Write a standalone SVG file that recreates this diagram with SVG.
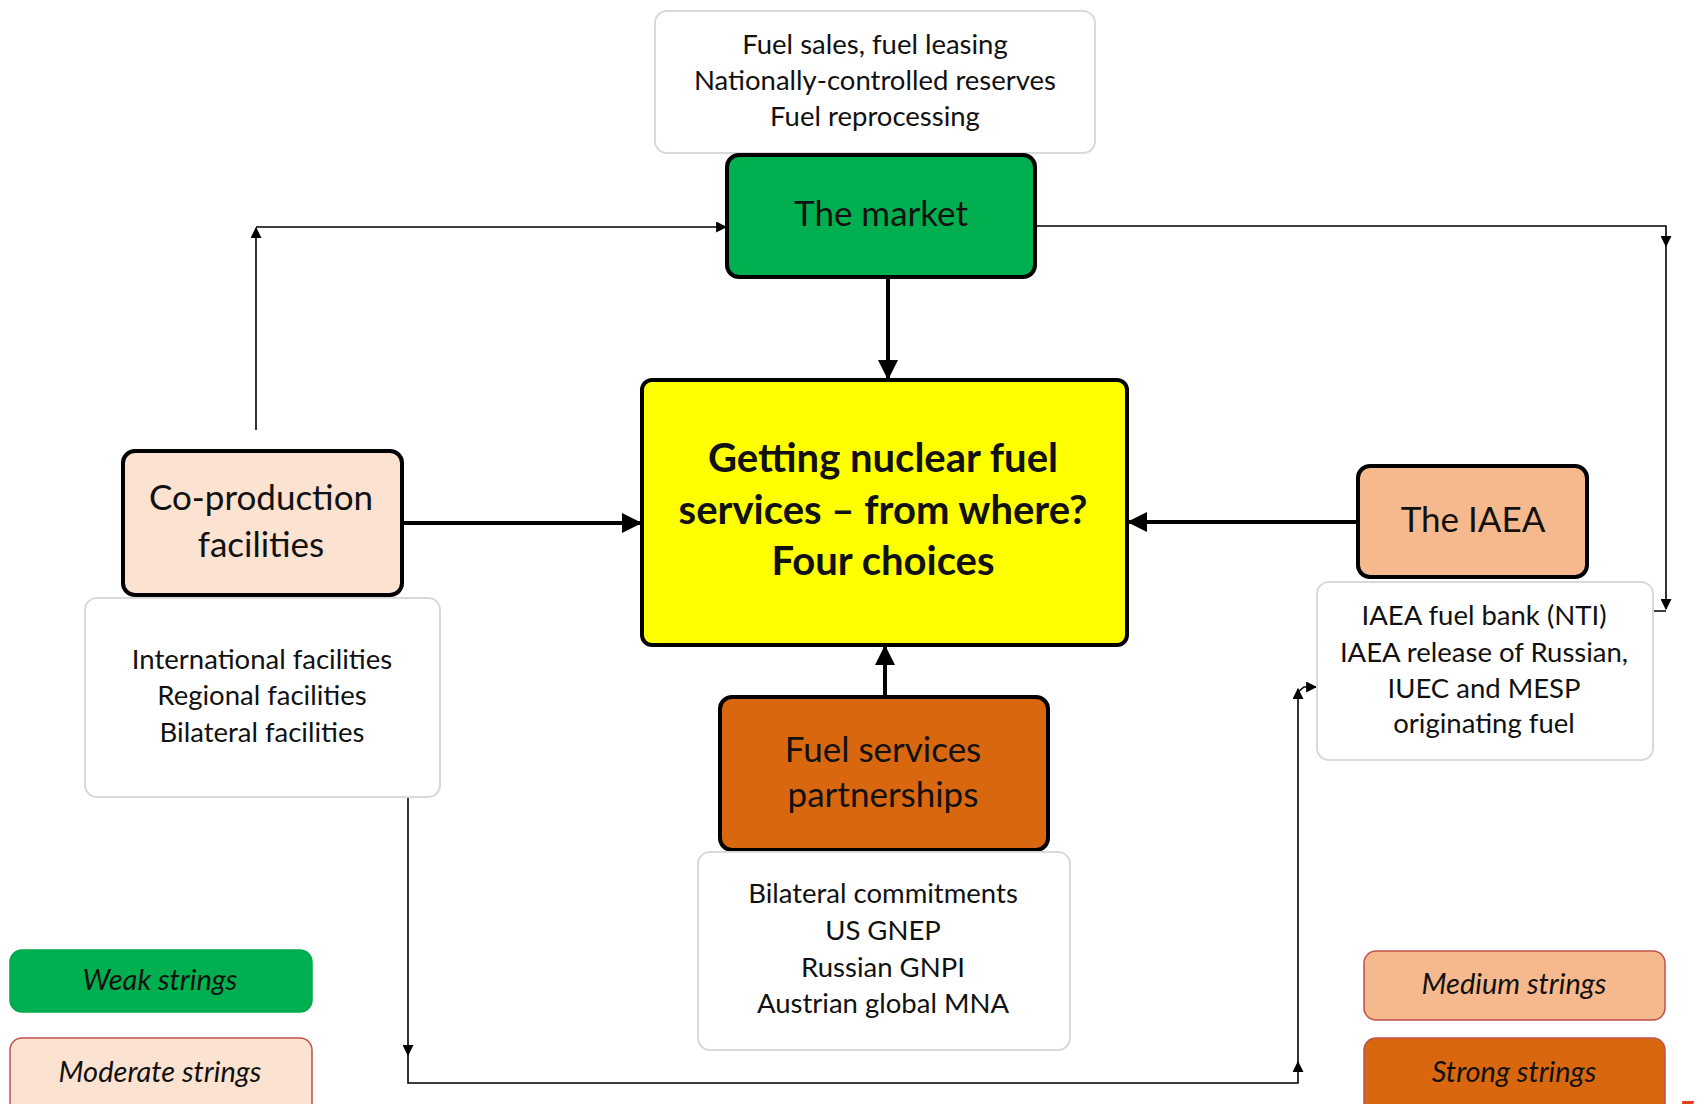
<svg xmlns="http://www.w3.org/2000/svg" width="1697" height="1104" viewBox="0 0 1697 1104">
<style>
text{font-family:Lato,"Open Sans","Liberation Sans",sans-serif;fill:#111;text-anchor:middle}
.main{stroke:#000;stroke-width:4}
.sub{fill:#fff;stroke:#d9d9d9;stroke-width:2}
.t34{font-size:35px}
.t25{font-size:27.5px}
.lg{font-size:29px;font-style:italic}
.thin{fill:none;stroke:#000;stroke-width:1.6}
.thick{fill:none;stroke:#000;stroke-width:4}
.big{font-size:40px;font-weight:bold}
</style>
<defs>
<marker id="ah" viewBox="0 0 10 10" refX="9" refY="5" markerWidth="6" markerHeight="6" orient="auto" markerUnits="userSpaceOnUse">
<path d="M0,0 L10,5 L0,10 z" fill="#000"/>
</marker>
<marker id="ahs" viewBox="0 0 10 10" refX="9" refY="5" markerWidth="11" markerHeight="11" orient="auto" markerUnits="userSpaceOnUse">
<path d="M0,0 L10,5 L0,10 z" fill="#000"/>
</marker>
<marker id="ahb" viewBox="0 0 10 10" refX="9" refY="5" markerWidth="20" markerHeight="20" orient="auto" markerUnits="userSpaceOnUse">
<path d="M0,0 L10,5 L0,10 z" fill="#000"/>
</marker>
</defs>
<rect width="1697" height="1104" fill="#fff"/>

<g id="connectors">
<path class="thick" d="M888,277 V378" marker-end="url(#ahb)"/>
<path class="thick" d="M402,523 H640" marker-end="url(#ahb)"/>
<path class="thick" d="M1358,522 H1129" marker-end="url(#ahb)"/>
<path class="thick" d="M885,697 V647" marker-end="url(#ahb)"/>
<path class="thin" d="M256,430 V228" marker-end="url(#ahs)"/>
<path class="thin" d="M256,227 H726" marker-end="url(#ahs)"/>
<path class="thin" d="M1035,226 H1666 V246" marker-end="url(#ahs)"/>
<path class="thin" d="M1666,240 V609" marker-end="url(#ahs)"/>
<path class="thin" d="M1666,611 H1618" marker-end="url(#ahs)"/>
<path class="thin" d="M408,797 V1055" marker-end="url(#ahs)"/>
<path class="thin" d="M408,1050 V1083 H1298 V1062" marker-end="url(#ahs)"/>
<path class="thin" d="M1298,1070 V689" marker-end="url(#ahs)"/>
<path class="thin" d="M1298,692 L1304,687 H1316" marker-end="url(#ahs)"/>
</g>

<g id="market-notes">
<rect class="sub" x="655" y="11" width="440" height="142" rx="12"/>
<text class="t25" x="875" y="54">Fuel sales, fuel leasing</text>
<text class="t25" x="875" y="90">Nationally-controlled reserves</text>
<text class="t25" x="875" y="126">Fuel reprocessing</text>
</g>
<g id="market">
<rect class="main" x="727" y="155" width="308" height="122" rx="12" fill="#00b050"/>
<text class="t34" x="881" y="226">The market</text>
</g>

<g id="center">
<rect x="642" y="380" width="485" height="265" rx="10" fill="#ffff00" stroke="#000" stroke-width="4"/>
<text class="big" x="883" y="472">Getting nuclear fuel</text>
<text class="big" x="883" y="524">services – from where?</text>
<text class="big" x="883" y="575">Four choices</text>
</g>

<g id="coproduction">
<rect class="main" x="123" y="451" width="279" height="144" rx="12" fill="#fce2d0"/>
<text class="t34" x="261" y="510">Co-production</text>
<text class="t34" x="261" y="557">facilities</text>
</g>
<g id="coproduction-notes">
<rect class="sub" x="85" y="598" width="355" height="199" rx="12"/>
<text class="t25" x="262" y="669">International facilities</text>
<text class="t25" x="262" y="705">Regional facilities</text>
<text class="t25" x="262" y="742">Bilateral facilities</text>
</g>

<g id="iaea">
<rect class="main" x="1358" y="466" width="229" height="111" rx="12" fill="#f6b98d"/>
<text class="t34" x="1473" y="532">The IAEA</text>
</g>
<g id="iaea-notes">
<rect class="sub" x="1317" y="582" width="336" height="178" rx="12"/>
<text class="t25" x="1484" y="625">IAEA fuel bank (NTI)</text>
<text class="t25" x="1484" y="662">IAEA release of Russian,</text>
<text class="t25" x="1484" y="698">IUEC and MESP</text>
<text class="t25" x="1484" y="733">originating fuel</text>
</g>

<g id="partnerships">
<rect class="main" x="720" y="697" width="328" height="153" rx="12" fill="#d8670f"/>
<text class="t34" x="883" y="762">Fuel services</text>
<text class="t34" x="883" y="807">partnerships</text>
</g>
<g id="partnerships-notes">
<rect class="sub" x="698" y="852" width="372" height="198" rx="12"/>
<text class="t25" x="883" y="903">Bilateral commitments</text>
<text class="t25" x="883" y="940">US GNEP</text>
<text class="t25" x="883" y="977">Russian GNPI</text>
<text class="t25" x="883" y="1013">Austrian global MNA</text>
</g>

<g id="legend-weak">
<rect x="10" y="950" width="302" height="62" rx="12" fill="#00b050" stroke="#00a84a" stroke-width="1.5"/>
<text class="lg" x="160" y="990">Weak strings</text>
</g>
<g id="legend-moderate">
<rect x="10" y="1038" width="302" height="80" rx="12" fill="#fce2d0" stroke="#c0504d" stroke-width="1.5"/>
<text class="lg" x="160" y="1082">Moderate strings</text>
</g>
<g id="legend-medium">
<rect x="1364" y="951" width="301" height="69" rx="12" fill="#f6b98d" stroke="#c0504d" stroke-width="1.5"/>
<text class="lg" x="1514" y="994">Medium strings</text>
</g>
<g id="legend-strong">
<rect x="1364" y="1038" width="301" height="80" rx="12" fill="#d8670f" stroke="#c0504d" stroke-width="1.5"/>
<text class="lg" x="1514" y="1082">Strong strings</text>
</g>
<text x="1687" y="1126" style="font-size:34px;fill:#e0401c">5</text>
</svg>
